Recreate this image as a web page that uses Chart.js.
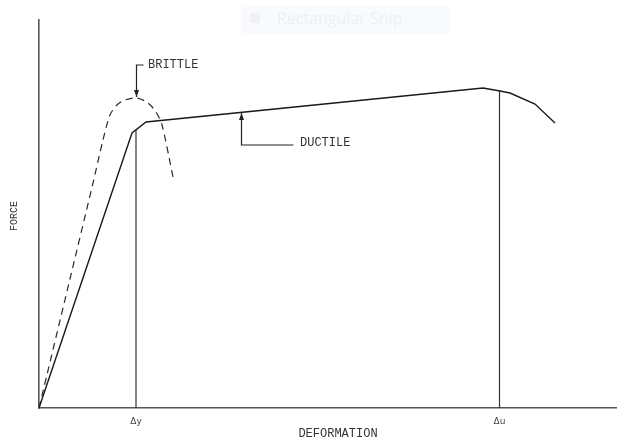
<!DOCTYPE html>
<html>
<head>
<meta charset="utf-8">
<script src="https://cdn.jsdelivr.net/npm/chart.js@4.4.1/dist/chart.umd.min.js"></script>
<style>
  html, body { margin: 0; padding: 0; background: #ffffff; }
  #wrap { width: 617px; height: 439px; position: relative; }
</style>
</head>
<body>
<div id="wrap"><canvas id="c" width="617" height="439"></canvas></div>
<script>
// ---- data (deformation units, force units) ----
const ductileX = [0, 93, 107, 444, 461, 471, 496, 516];
const ductileY = [0, 275, 286, 320, 317, 315, 304, 285];
const brittleX = [0, 30, 54, 64, 71, 78, 86, 98, 109, 117, 123, 134];
const brittleY = [0, 125, 225, 268, 293, 303, 308, 310, 305, 296, 283, 231];
const yieldDef = 97;       // Δy
const yieldForce = 278;
const ultDef = 460.5;      // Δu
const ultForce = 317;
const tickValues = [yieldDef, ultDef];
const tickLabels = ['\u0394y', '\u0394u'];
const xTitle = 'DEFORMATION';
const yTitle = 'FORCE';
const brittleLabel = 'BRITTLE';
const ductileLabel = 'DUCTILE';
// label anchors (data units)
const brittleText = [109, 343];
const brittleLeader = [[104, 343], [97, 343], [97, 311]];
const ductileText = [261, 265];
const ductileLeader = [[254, 263], [202, 263], [202, 295]];

const toPts = (xs, ys) => xs.map((x, i) => ({ x: x, y: ys[i] }));

const annot = {
  id: 'annot',
  afterDraw(chart) {
    const ctx = chart.ctx;
    const xs = chart.scales.x, ys = chart.scales.y;
    const px = v => xs.getPixelForValue(v), py = v => ys.getPixelForValue(v);
    ctx.save();
    // faint watermark of the snipping tool
    ctx.fillStyle = 'rgba(238,242,248,0.35)';
    ctx.fillRect(241, 5, 208, 30);
    ctx.fillStyle = 'rgba(220,226,236,0.35)';
    ctx.fillRect(250, 13, 10, 10);
    ctx.fillStyle = 'rgba(205,212,224,0.3)';
    ctx.font = '16px "Open Sans", sans-serif';
    ctx.textBaseline = 'middle';
    ctx.textAlign = 'left';
    ctx.fillText('Rectangular Snip', 277, 19);

    ctx.strokeStyle = '#222';
    ctx.fillStyle = '#222';
    ctx.lineWidth = 1.2;
    const leader = (pts, dirUp) => {
      ctx.beginPath();
      pts.forEach((p, i) => {
        const X = Math.round(px(p[0])) + 0.5, Y = py(p[1]);
        if (i === 0) ctx.moveTo(X, Y); else ctx.lineTo(X, Y);
      });
      ctx.stroke();
      const tip = pts[pts.length - 1];
      const tx = Math.round(px(tip[0])) + 0.5, ty = py(tip[1]);
      ctx.beginPath();
      if (dirUp) {
        ctx.moveTo(tx, ty); ctx.lineTo(tx - 2.5, ty + 7); ctx.lineTo(tx + 2.5, ty + 7);
      } else {
        ctx.moveTo(tx, ty); ctx.lineTo(tx - 2.5, ty - 7); ctx.lineTo(tx + 2.5, ty - 7);
      }
      ctx.closePath();
      ctx.fill();
    };
    leader(brittleLeader, false);
    leader(ductileLeader, true);

    ctx.fillStyle = '#333';
    ctx.font = '12px "Liberation Mono", monospace';
    ctx.textAlign = 'left';
    ctx.textBaseline = 'middle';
    ctx.fillText(brittleLabel, px(brittleText[0]), py(brittleText[1]));
    ctx.fillText(ductileLabel, px(ductileText[0]), py(ductileText[1]));

    // axis titles
    ctx.textAlign = 'center';
    ctx.fillText(xTitle, 338, 434);
    ctx.save();
    ctx.translate(14, 216);
    ctx.rotate(-Math.PI / 2);
    ctx.font = '10px "Liberation Mono", monospace';
    ctx.fillText(yTitle, 0, 0);
    ctx.restore();
    ctx.restore();
  }
};

new Chart(document.getElementById('c'), {
  type: 'line',
  data: {
    datasets: [
      { label: 'Ductile', data: toPts(ductileX, ductileY), borderColor: '#1a1a1a', borderWidth: 1.4, pointRadius: 0, tension: 0, fill: false },
      { label: 'Brittle', data: toPts(brittleX, brittleY), borderColor: '#2a2a2a', borderWidth: 1.2, borderDash: [7, 5], pointRadius: 0, tension: 0.3, fill: false },
      { label: 'dy', data: [{ x: yieldDef, y: 0 }, { x: yieldDef, y: yieldForce }], borderColor: '#333', borderWidth: 1.2, pointRadius: 0 },
      { label: 'du', data: [{ x: ultDef, y: 0 }, { x: ultDef, y: ultForce }], borderColor: '#333', borderWidth: 1.2, pointRadius: 0 }
    ]
  },
  options: {
    responsive: false,
    animation: false,
    layout: { padding: { top: 20, right: 0, left: 0, bottom: 0 } },
    plugins: { legend: { display: false }, tooltip: { enabled: false } },
    scales: {
      x: {
        type: 'linear', min: 0, max: 578,
        grid: { display: false, drawTicks: false },
        border: { display: true, color: '#555', width: 1.6 },
        afterBuildTicks: s => { s.ticks = tickValues.map(v => ({ value: v })); },
        afterFit: s => { s.height = 31; },
        ticks: {
          autoSkip: false, maxRotation: 0, padding: 8, color: '#444',
          font: { size: 9, family: 'DejaVu Sans' },
          callback: (v, i) => tickLabels[i]
        }
      },
      y: {
        type: 'linear', min: 0, max: 388,
        grid: { display: false, drawTicks: false },
        border: { display: true, color: '#555', width: 1.6 },
        ticks: { display: false },
        afterFit: s => { s.width = 39; }
      }
    }
  },
  plugins: [annot]
});
</script>
</body>
</html>
